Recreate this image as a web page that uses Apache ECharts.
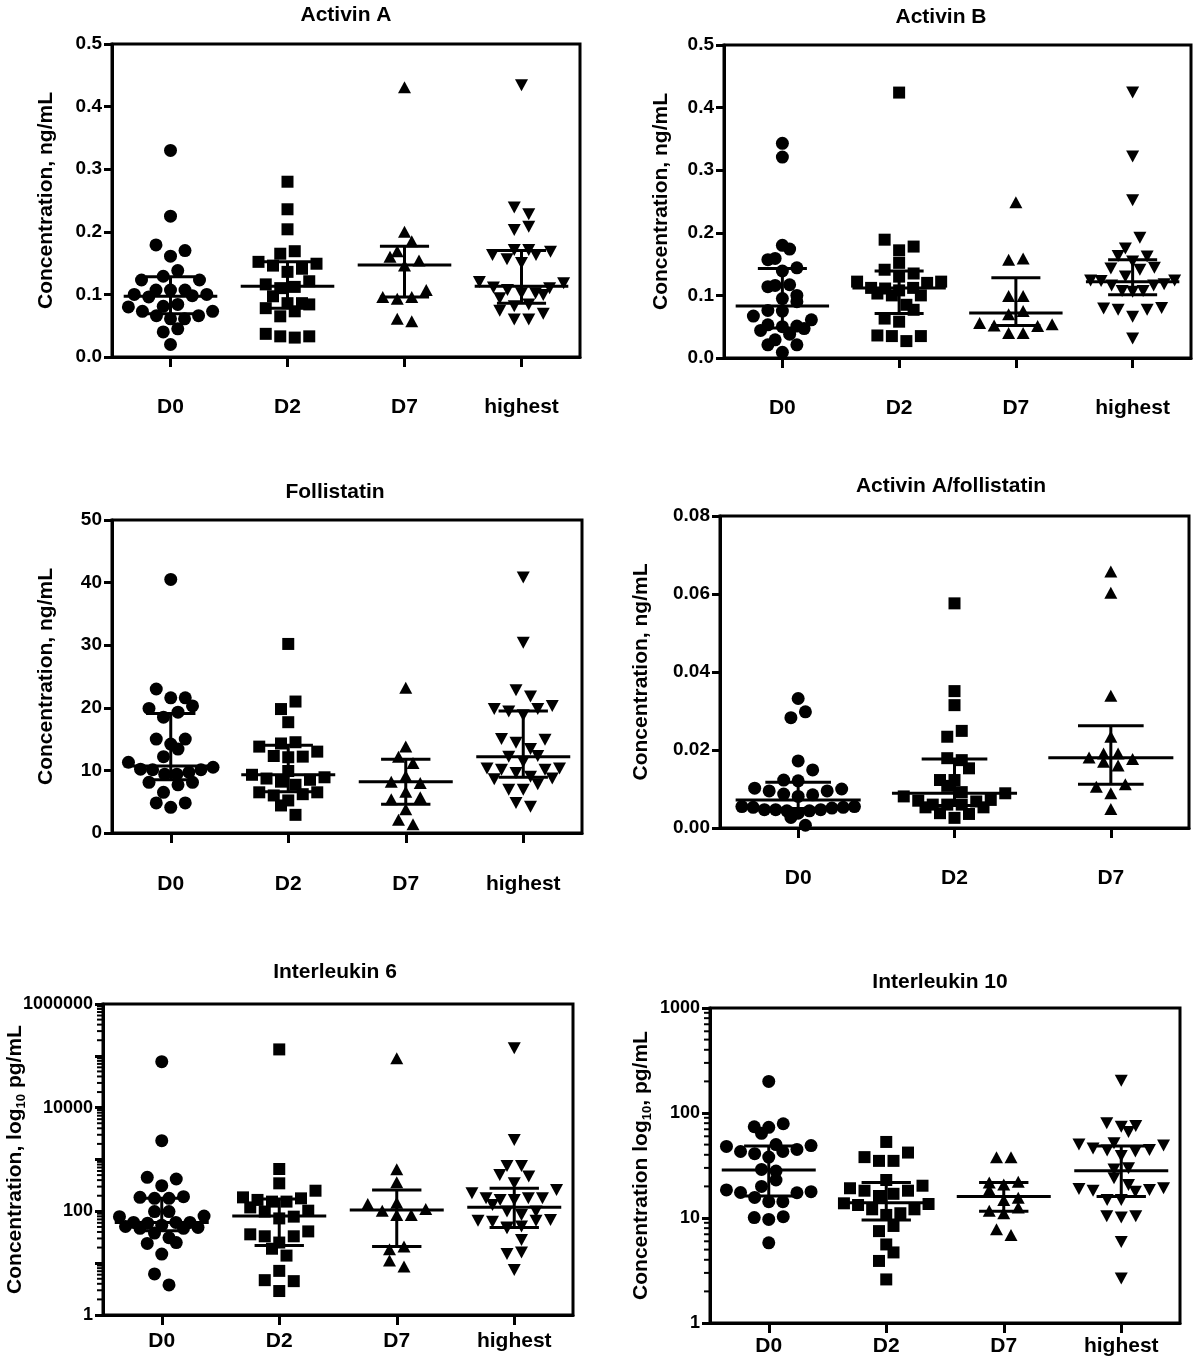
<!DOCTYPE html>
<html><head><meta charset="utf-8">
<script src="https://cdn.jsdelivr.net/npm/echarts@6/dist/echarts.min.js"></script>
<style>html,body{margin:0;padding:0;background:#fff}#c{width:1200px;height:1364px}</style>
</head><body><div id="c"></div>
<script>
// ---------------- DATA ----------------
const categories = ['D0', 'D2', 'D7', 'highest'];
const ratioCategories = ['D0', 'D2', 'D7'];

const activinA = [
  [0.330, 0.225, 0.179, 0.170, 0.161, 0.138, 0.123, 0.123, 0.129, 0.107, 0.107, 0.098, 0.100, 0.096, 0.100, 0.107, 0.080, 0.073, 0.066, 0.061, 0.084, 0.061, 0.066, 0.073, 0.081, 0.045, 0.040, 0.020],
  [0.280, 0.236, 0.204, 0.165, 0.169, 0.149, 0.141, 0.136, 0.146, 0.152, 0.121, 0.112, 0.097, 0.110, 0.116, 0.086, 0.084, 0.073, 0.065, 0.078, 0.086, 0.033, 0.031, 0.033, 0.037],
  [0.431, 0.200, 0.185, 0.160, 0.169, 0.154, 0.146, 0.107, 0.096, 0.093, 0.096, 0.057, 0.061],
  [0.434, 0.228, 0.239, 0.203, 0.208, 0.171, 0.163, 0.156, 0.150, 0.163, 0.168, 0.171, 0.110, 0.102, 0.099, 0.118, 0.094, 0.120, 0.102, 0.107, 0.111, 0.081, 0.069, 0.060, 0.060, 0.074, 0.084]
];
const activinAMedian = [0.097, 0.113, 0.147, 0.113];
const activinAQ1 = [0.069, 0.078, 0.096, 0.086];
const activinAQ3 = [0.128, 0.152, 0.177, 0.170];

const activinB = [
  [0.343, 0.321, 0.180, 0.174, 0.157, 0.159, 0.139, 0.144, 0.114, 0.116, 0.117, 0.095, 0.090, 0.100, 0.075, 0.076, 0.061, 0.067, 0.053, 0.050, 0.044, 0.051, 0.047, 0.038, 0.029, 0.021, 0.021, 0.009],
  [0.424, 0.189, 0.178, 0.172, 0.152, 0.141, 0.135, 0.130, 0.120, 0.122, 0.122, 0.111, 0.112, 0.108, 0.112, 0.100, 0.100, 0.103, 0.085, 0.077, 0.063, 0.058, 0.035, 0.035, 0.036, 0.027],
  [0.249, 0.159, 0.157, 0.099, 0.099, 0.075, 0.070, 0.054, 0.051, 0.052, 0.056, 0.040, 0.040],
  [0.424, 0.322, 0.252, 0.192, 0.175, 0.162, 0.163, 0.154, 0.144, 0.141, 0.143, 0.124, 0.124, 0.118, 0.130, 0.116, 0.116, 0.123, 0.107, 0.107, 0.106, 0.080, 0.077, 0.077, 0.079, 0.066, 0.031]
];
const activinBMedian = [0.083, 0.112, 0.072, 0.122];
const activinBQ1 = [0.048, 0.071, 0.052, 0.101];
const activinBQ3 = [0.143, 0.139, 0.128, 0.157];

const follistatin = [
  [40.5, 23.0, 21.6, 21.6, 19.9, 20.3, 18.5, 19.3, 15.0, 15.0, 14.2, 13.4, 12.2, 11.3, 10.5, 10.1, 9.7, 9.4, 9.4, 10.1, 10.2, 8.1, 7.7, 8.1, 6.5, 4.8, 4.8, 4.1],
  [30.2, 21.0, 19.8, 17.7, 14.3, 14.5, 13.8, 13.0, 12.2, 12.1, 12.3, 9.9, 8.9, 8.5, 8.7, 9.3, 8.2, 7.7, 6.5, 6.2, 6.0, 6.5, 5.2, 4.4, 2.9],
  [23.2, 13.8, 12.2, 11.2, 9.1, 8.0, 8.2, 6.6, 5.7, 5.4, 3.8, 2.1, 1.4],
  [40.8, 30.4, 22.8, 21.8, 20.3, 19.8, 18.8, 19.4, 19.8, 14.9, 14.4, 15.0, 13.4, 12.2, 11.4, 12.3, 10.3, 10.1, 9.0, 8.6, 7.8, 8.7, 9.6, 10.1, 10.3, 6.9, 6.9, 4.2, 4.8]
];
const follistatinMedian = [10.7, 9.3, 8.2, 12.2];
const follistatinQ1 = [8.5, 6.6, 4.6, 8.9];
const follistatinQ3 = [19.1, 14.0, 11.8, 19.5];

const ratio = [
  [0.0332, 0.0283, 0.0298, 0.0172, 0.0149, 0.0121, 0.0123, 0.0100, 0.0095, 0.0095, 0.0102, 0.0085, 0.0081, 0.0087, 0.0047, 0.0044, 0.0055, 0.0038, 0.0053, 0.0051, 0.0053, 0.0044, 0.0055, 0.0047, 0.0047, 0.0027, 0.0007],
  [0.0576, 0.0351, 0.0315, 0.0234, 0.0249, 0.0174, 0.0179, 0.0153, 0.0123, 0.0123, 0.0108, 0.0092, 0.0081, 0.0089, 0.0070, 0.0068, 0.0072, 0.0060, 0.0053, 0.0053, 0.0060, 0.0060, 0.0038, 0.0036, 0.0026],
  [0.0658, 0.0603, 0.0339, 0.0234, 0.0191, 0.0191, 0.0177, 0.0181, 0.0170, 0.0160, 0.0106, 0.0112, 0.0089, 0.0049]
];
const ratioMedian = [0.0072, 0.0089, 0.0180];
const ratioQ1 = [0.0050, 0.0058, 0.0112];
const ratioQ3 = [0.0117, 0.0177, 0.0262];

const il6 = [
  [77000, 2310, 453, 421, 313, 186, 178, 178, 192, 99, 99, 81, 79, 61, 54, 47, 47, 59, 49, 51, 61, 61, 31, 38, 24, 25, 15, 6.2, 3.8],
  [133000, 656, 347, 250, 186, 166, 154, 154, 178, 103, 99, 119, 79, 73, 41, 33, 36, 33, 25, 19, 14, 7.1, 4.7, 4.5, 2.9],
  [89500, 646, 362, 138, 147, 103, 111, 85, 85, 21, 18.5, 11.2, 8.6],
  [139600, 2380, 752, 752, 504, 468, 349, 259, 224, 179, 166, 133, 166, 179, 179, 99, 99, 85, 68, 66, 51, 47, 49, 63, 66, 28, 15, 16, 7.4]
];
const il6Median = [61, 81, 106, 120];
const il6Q1 = [42, 22, 21, 49];
const il6Q3 = [178, 173, 258, 279];

const il10 = [
  [200, 79, 73, 74, 64, 49, 50, 45, 48, 43, 43, 38, 41, 28, 29, 23, 18.5, 17.5, 20, 17.8, 17.4, 15.7, 14.3, 14.3, 10.1, 9.7, 10.3, 5.8],
  [53, 38, 35, 35, 42, 23, 16.2, 17.0, 18.2, 18.2, 19.2, 20.3, 13.6, 13.3, 13.8, 12.1, 12.1, 10.7, 11.1, 8.4, 7.5, 5.6, 4.7, 3.9, 2.6],
  [37.9, 37.9, 21.8, 20.9, 22.2, 18.5, 14.8, 15.6, 11.7, 12.6, 11.1, 7.8, 6.9],
  [203, 80, 75, 74, 66, 51.5, 49, 50, 46, 44, 43, 44.5, 39, 29.7, 29, 23.9, 20.6, 18.9, 19.2, 18.5, 17.8, 18.2, 14.8, 14.8, 10.4, 10.1, 10.4, 5.9, 2.65]
];
const il10Median = [28.7, 14.0, 16.0, 28.2];
const il10Q1 = [16.2, 9.55, 11.6, 16.0];
const il10Q3 = [48.6, 21.8, 21.8, 48.6];

// ---------------- LAYOUT ----------------
const FONT = '"Liberation Sans", Arial, Helvetica, sans-serif';
const panels = [
  { title: 'Activin A', cats: categories, groups: activinA, med: activinAMedian, q1: activinAQ1, q3: activinAQ3,
    yName: '{a|Concentration, ng/mL}', log: false, min: 0, max: 0.5, interval: 0.1, dec: 1,
    box: { left: 112, top: 44, width: 468, height: 313 }, titleAt: [346, 15], nameGap: 53, xMargin: 40 },
  { title: 'Activin B', cats: categories, groups: activinB, med: activinBMedian, q1: activinBQ1, q3: activinBQ3,
    yName: '{a|Concentration, ng/mL}', log: false, min: 0, max: 0.5, interval: 0.1, dec: 1,
    box: { left: 724, top: 45, width: 467, height: 313 }, titleAt: [941, 17], nameGap: 50, xMargin: 40 },
  { title: 'Follistatin', cats: categories, groups: follistatin, med: follistatinMedian, q1: follistatinQ1, q3: follistatinQ3,
    yName: '{a|Concentration, ng/mL}', log: false, min: 0, max: 50, interval: 10, dec: 0,
    box: { left: 112, top: 520, width: 470, height: 313 }, titleAt: [335, 492], nameGap: 53, xMargin: 41 },
  { title: 'Activin A/follistatin', cats: ratioCategories, groups: ratio, med: ratioMedian, q1: ratioQ1, q3: ratioQ3,
    yName: '{a|Concentration, ng/mL}', log: false, min: 0, max: 0.08, interval: 0.02, dec: 2,
    box: { left: 720, top: 516, width: 469, height: 312 }, titleAt: [951, 486], nameGap: 66, xMargin: 40 },
  { title: 'Interleukin 6', cats: categories, groups: il6, med: il6Median, q1: il6Q1, q3: il6Q3,
    yName: '{a|Concentration, log}{b|10}{a| pg/mL}', log: true, min: 1, max: 1000000, labelEvery: 2,
    box: { left: 103, top: 1004, width: 470, height: 311 }, titleAt: [335, 972], nameGap: 75, xMargin: 16 },
  { title: 'Interleukin 10', cats: categories, groups: il10, med: il10Median, q1: il10Q1, q3: il10Q3,
    yName: '{a|Concentration log}{b|10}{a|, pg/mL}', log: true, min: 1, max: 1000, labelEvery: 1,
    box: { left: 710, top: 1008, width: 470, height: 315 }, titleAt: [940, 982], nameGap: 56, xMargin: 13 }
];

const symbols = [
  { symbol: 'circle', size: 13, rotate: 0 },
  { symbol: 'rect', size: 12, rotate: 0 },
  { symbol: 'triangle', size: [13, 12], rotate: 0 },
  { symbol: 'triangle', size: [13, 12], rotate: 180 }
];

// Prism-like row layout for scatter dot plots (offsets in px)
function swarmOffsets(vals, toPx, rowPx, spacing, maxSpan) {
  const idx = vals.map((v, i) => i).sort((a, b) => toPx(vals[a]) - toPx(vals[b]));
  const offs = new Array(vals.length).fill(0);
  let row = [], start = null, rowIdx = 0;
  const flush = () => {
    const n = row.length;
    if (!n) return;
    const s = n > 1 ? Math.min(spacing, maxSpan / (n - 1)) : 0;
    const slots = [];
    for (let j = 0; j < n; j++) slots.push((j - (n - 1) / 2) * s);
    const order = slots.map((x, j) => j).sort((a, b) =>
      (Math.abs(slots[a]) - Math.abs(slots[b])) || (rowIdx % 2 ? slots[a] - slots[b] : slots[b] - slots[a]));
    row.forEach((id, k) => { offs[id] = slots[order[k]]; });
    rowIdx++;
    row = [];
  };
  idx.forEach(i => {
    const y = toPx(vals[i]);
    if (start === null || y - start > rowPx) { flush(); start = y; }
    row.push(i);
  });
  flush();
  return offs;
}

const grids = [], xAxes = [], yAxes = [], series = [], graphics = [];
const axisLineStyle = { color: '#000', width: 3 };

panels.forEach((p, k) => {
  const n = p.cats.length;
  const band = p.box.width / n;
  grids.push(Object.assign({ show: true, borderColor: '#000', borderWidth: 3, backgroundColor: 'rgba(0,0,0,0)',
    containLabel: false, outerBoundsMode: 'none' }, p.box));

  xAxes.push({
    type: 'category', gridIndex: k, data: p.cats, boundaryGap: true,
    axisLine: { show: true, onZero: false, lineStyle: axisLineStyle },
    axisTick: { show: true, alignWithLabel: true, length: 10, lineStyle: axisLineStyle },
    axisLabel: { interval: 0, margin: p.xMargin, color: '#000', fontFamily: FONT, fontWeight: 'bold', fontSize: 21 },
    splitLine: { show: false }
  });
  xAxes.push({ type: 'value', gridIndex: k, min: -0.5, max: n - 0.5, show: false });

  const y = {
    gridIndex: k, min: p.min, max: p.max,
    name: p.yName, nameLocation: 'middle', nameRotate: 90, nameGap: p.nameGap, nameMoveOverlap: false,
    nameTextStyle: {
      color: '#000',
      rich: {
        a: { fontSize: 21, fontWeight: 'bold', fontFamily: FONT, color: '#000', padding: [0, 0, 2.5, 0] },
        b: { fontSize: 13, fontWeight: 'bold', fontFamily: FONT, color: '#000', padding: [10, 0, 0, 0] }
      }
    },
    axisLine: { show: true, onZero: false, lineStyle: axisLineStyle },
    axisTick: { show: true, inside: false, length: 8, lineStyle: axisLineStyle },
    axisLabel: { show: true, margin: 10, color: '#000', fontFamily: FONT, fontWeight: 'bold', fontSize: p.log ? 18 : 19,
      showMinLabel: true, showMaxLabel: true },
    splitLine: { show: false }, minorTick: { show: false }
  };
  if (p.log) {
    y.type = 'log'; y.logBase = 10;
    const every = p.labelEvery;
    y.axisLabel.formatter = v => {
      const e = Math.round(Math.log10(v));
      return e % every === 0 ? String(Math.pow(10, e)) : '';
    };
  } else {
    y.type = 'value'; y.interval = p.interval;
    const dec = p.dec;
    y.axisLabel.formatter = v => v.toFixed(dec);
  }
  yAxes.push(y);

  // pixel scale for layout of points
  const toPx = p.log
    ? (v => Math.log10(v) * p.box.height / (Math.log10(p.max) - Math.log10(p.min)))
    : (v => v * p.box.height / (p.max - p.min));

  p.groups.forEach((vals, i) => {
    const offs = swarmOffsets(vals, toPx, 12, 14.5, band * 0.72);
    const s = symbols[i];
    series.push({
      type: 'scatter', xAxisIndex: 2 * k + 1, yAxisIndex: k, silent: true, z: 3,
      symbol: s.symbol, symbolSize: s.size, symbolRotate: s.rotate,
      itemStyle: { color: '#000', opacity: 1, borderWidth: 0 },
      data: vals.map((v, j) => [i + offs[j] / band, v])
    });
  });

  // median with interquartile range
  series.push({
    type: 'custom', xAxisIndex: 2 * k + 1, yAxisIndex: k, silent: true, z: 5, clip: false,
    encode: { x: 0, y: [1, 2, 3] },
    data: p.cats.map((c, i) => [i, p.q1[i], p.med[i], p.q3[i]]),
    renderItem: (params, api) => {
      const bw = params.coordSys.width / n;
      const xv = api.value(0);
      const lo = api.coord([xv, api.value(1)]);
      const md = api.coord([xv, api.value(2)]);
      const hi = api.coord([xv, api.value(3)]);
      const mw = bw * 0.4, cw = bw * 0.21;
      const st = { stroke: '#000', lineWidth: 3, fill: null };
      return {
        type: 'group', children: [
          { type: 'line', shape: { x1: md[0] - mw, y1: md[1], x2: md[0] + mw, y2: md[1] }, style: st },
          { type: 'line', shape: { x1: hi[0] - cw, y1: hi[1], x2: hi[0] + cw, y2: hi[1] }, style: st },
          { type: 'line', shape: { x1: lo[0] - cw, y1: lo[1], x2: lo[0] + cw, y2: lo[1] }, style: st },
          { type: 'line', shape: { x1: hi[0], y1: hi[1], x2: lo[0], y2: lo[1] }, style: st }
        ]
      };
    }
  });

  // log minor ticks (2..9 within each decade)
  if (p.log) {
    const minor = [];
    for (let e = Math.round(Math.log10(p.min)); e < Math.round(Math.log10(p.max)); e++) {
      for (let m = 2; m <= 9; m++) minor.push([0, m * Math.pow(10, e)]);
    }
    series.push({
      type: 'custom', xAxisIndex: 2 * k + 1, yAxisIndex: k, silent: true, z: 6, clip: false,
      encode: { x: 0, y: 1 },
      data: minor,
      renderItem: (params, api) => {
        const pt = api.coord([0, api.value(1)]);
        const x0 = params.coordSys.x;
        return { type: 'line', shape: { x1: x0 - 6, y1: pt[1], x2: x0, y2: pt[1] },
          style: { stroke: '#000', lineWidth: 2 } };
      }
    });
  }

  graphics.push({
    type: 'text', x: p.titleAt[0], y: p.titleAt[1], silent: true,
    style: { text: p.title, font: 'bold 21px ' + FONT, fill: '#000',
      align: 'center', verticalAlign: 'middle', textAlign: 'center', textVerticalAlign: 'middle' }
  });
});

const chart = echarts.init(document.getElementById('c'), null, { renderer: 'canvas' });
chart.setOption({
  animation: false,
  backgroundColor: '#fff',
  grid: grids, xAxis: xAxes, yAxis: yAxes, series: series, graphic: graphics
});
</script></body></html>
